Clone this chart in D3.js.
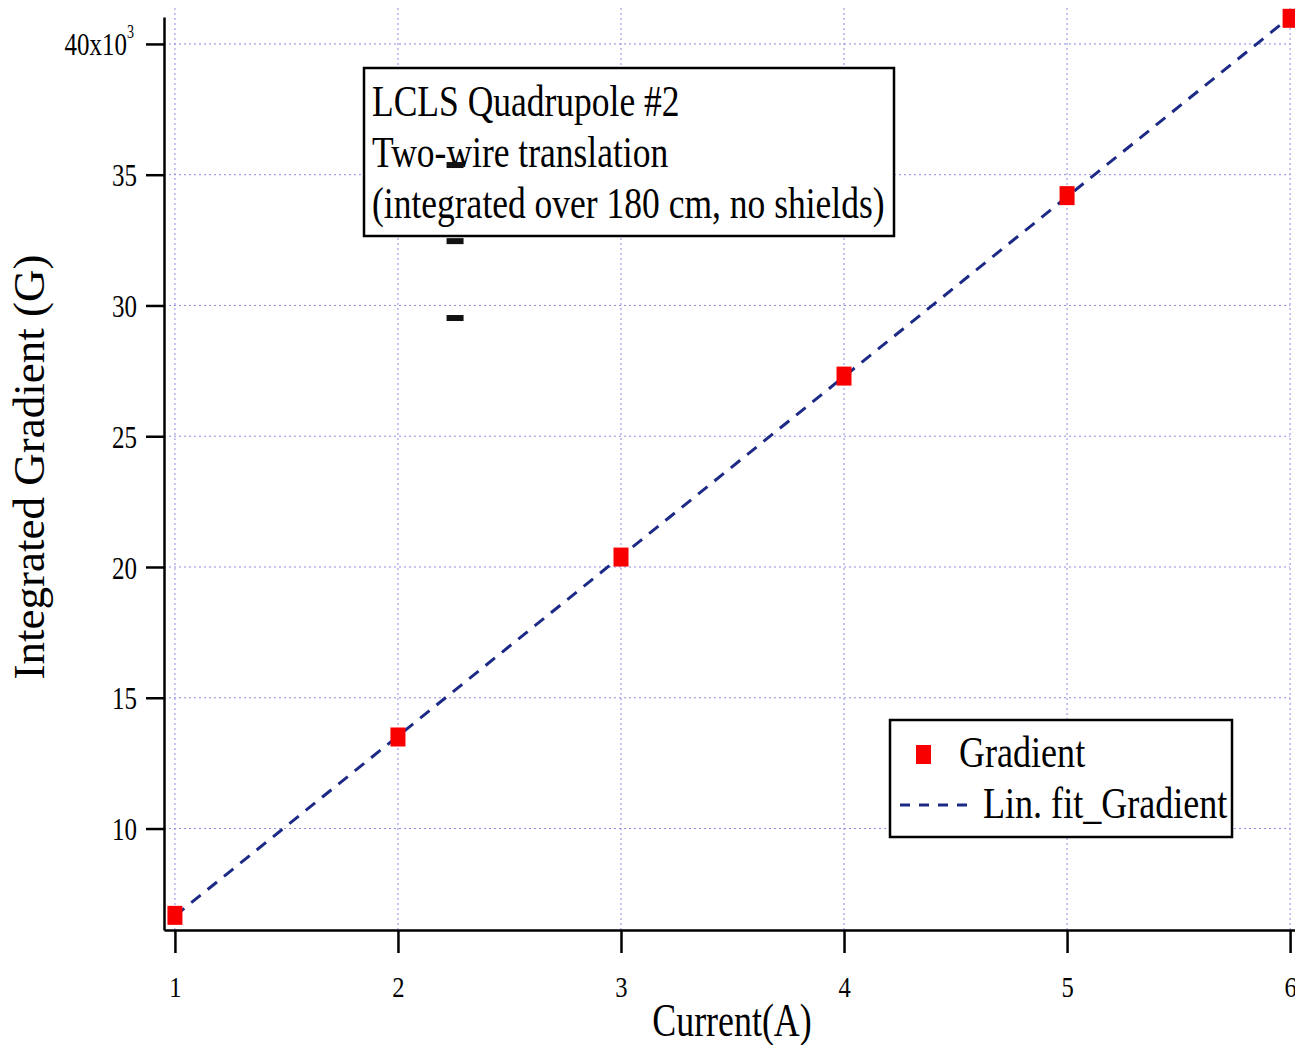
<!DOCTYPE html>
<meta charset="utf-8">
<script src="https://d3js.org/d3.v7.min.js"></script>
<style>
  body { margin: 0; background: #fff; }
  text { font-family: "Liberation Serif", "Times New Roman", serif; fill: #000; }
</style>
<div id="my_dataviz"></div>
<script>

// data (gradient in units of 10^3 G)
var currentA = [1, 2, 3, 4, 5, 6];
var gradientKG = [6.68, 13.5, 20.38, 27.3, 34.2, 40.98];

// linear fit end points
var fitCurrent = [1, 6];
var fitGradient = [6.66, 41.03];

// the three small black marks near x = 2.25
var strayCurrent = [2.256, 2.256, 2.256];
var strayGradient = [35.37, 32.46, 29.52];

var xTicks = [1, 2, 3, 4, 5, 6];
var yTicks = [10, 15, 20, 25, 30, 35, 40];

var annotationLines = ["LCLS Quadrupole #2", "Two-wire translation", "(integrated over 180 cm, no shields)"];
var legendLabels = ["Gradient", "Lin. fit_Gradient"];

var width = 1295, height = 1045;

var svg = d3.select("#my_dataviz")
  .append("svg")
    .attr("width", width)
    .attr("height", height);

svg.append("rect").attr("width", width).attr("height", height).attr("fill", "#fff");

// scales
var x = d3.scaleLinear().domain([0.951, 6.022]).range([164, 1295]);
var y = d3.scaleLinear().domain([6.12, 41.03]).range([930, 17]);

// grid
var gridColor = "#8c8ce0";
svg.append("g").selectAll("line")
  .data(xTicks)
  .enter().append("line")
    .attr("x1", function(d) { return x(d); })
    .attr("x2", function(d) { return x(d); })
    .attr("y1", 8)
    .attr("y2", y.range()[0])
    .attr("stroke", gridColor)
    .attr("stroke-width", 1)
    .attr("stroke-dasharray", "2,3");

svg.append("g").selectAll("line")
  .data(yTicks)
  .enter().append("line")
    .attr("x1", x.range()[0])
    .attr("x2", x(6))
    .attr("y1", function(d) { return y(d); })
    .attr("y2", function(d) { return y(d); })
    .attr("stroke", gridColor)
    .attr("stroke-width", 1)
    .attr("stroke-dasharray", "2,3");

// axes
var yAxis = svg.append("g")
  .attr("transform", "translate(164,0)")
  .call(d3.axisLeft(y).tickValues(yTicks).tickSize(18).tickSizeOuter(0).tickFormat(d3.format("d")));

var xAxis = svg.append("g")
  .attr("transform", "translate(0,930)")
  .call(d3.axisBottom(x).tickValues(xTicks).tickSize(23).tickSizeOuter(0).tickFormat(d3.format("d")));

[yAxis, xAxis].forEach(function(a) {
  a.select(".domain").attr("stroke", "#000").attr("stroke-width", 2.5);
  a.selectAll(".tick line").attr("stroke", "#000").attr("stroke-width", 2.5);
});

yAxis.selectAll(".tick text")
  .attr("x", 0)
  .attr("dy", null)
  .attr("y", 11)
  .attr("font-size", 32)
  .attr("font-family", "Liberation Serif")
  .attr("transform", "translate(-27,0) scale(0.78,1)");

// 40x10^3 label
yAxis.selectAll(".tick text")
  .filter(function(d) { return d === 40; })
  .text("40x10")
  .attr("transform", "translate(-30,0) scale(0.78,1)")
  .append("tspan")
    .attr("font-size", 18)
    .attr("dy", -17)
    .text("3");

xAxis.selectAll(".tick text")
  .attr("y", 0)
  .attr("dy", null)
  .attr("font-size", 30)
  .attr("font-family", "Liberation Serif")
  .attr("transform", "translate(0,67) scale(0.82,1)");

// axis titles
svg.append("text")
  .attr("text-anchor", "middle")
  .attr("font-size", 46)
  .attr("transform", "translate(732,1036) scale(0.78,1)")
  .text("Current(A)");

svg.append("text")
  .attr("text-anchor", "middle")
  .attr("font-size", 45)
  .attr("transform", "translate(44,467) rotate(-90)")
  .text("Integrated Gradient (G)");

// fit line
svg.append("path")
  .datum(d3.zip(fitCurrent, fitGradient))
  .attr("fill", "none")
  .attr("stroke", "#1c2a86")
  .attr("stroke-width", 3)
  .attr("stroke-dasharray", "12,9")
  .attr("d", d3.line()
    .x(function(d) { return x(d[0]); })
    .y(function(d) { return y(d[1]); }));

// data markers
svg.append("g").selectAll("rect")
  .data(d3.zip(currentA, gradientKG))
  .enter().append("rect")
    .attr("x", function(d) { return x(d[0]) - 7.5; })
    .attr("y", function(d) { return y(d[1]) - 9.5; })
    .attr("width", 15)
    .attr("height", 19)
    .attr("fill", "#f80000");

// annotation box
var ann = svg.append("g");
ann.append("rect")
  .attr("x", 364).attr("y", 68)
  .attr("width", 530).attr("height", 168)
  .attr("fill", "#fff")
  .attr("stroke", "#000")
  .attr("stroke-width", 2.5);
ann.selectAll("text")
  .data(annotationLines)
  .enter().append("text")
    .attr("font-size", 44)
    .attr("transform", function(d, i) { return "translate(372," + (116 + i * 51) + ") scale(0.807,1)"; })
    .text(function(d) { return d; });

// stray black marks
svg.append("g").selectAll("rect")
  .data(d3.zip(strayCurrent, strayGradient))
  .enter().append("rect")
    .attr("x", function(d) { return x(d[0]) - 8.5; })
    .attr("y", function(d) { return y(d[1]) - 3; })
    .attr("width", 17)
    .attr("height", 6)
    .attr("fill", "#111");

// legend
var legend = svg.append("g");
legend.append("rect")
  .attr("x", 890).attr("y", 720)
  .attr("width", 342).attr("height", 117)
  .attr("fill", "#fff")
  .attr("stroke", "#000")
  .attr("stroke-width", 2.5);
legend.append("rect")
  .attr("x", 916).attr("y", 745)
  .attr("width", 15).attr("height", 19)
  .attr("fill", "#f80000");
legend.append("line")
  .attr("x1", 900).attr("x2", 968)
  .attr("y1", 805).attr("y2", 805)
  .attr("stroke", "#1c2a86")
  .attr("stroke-width", 3)
  .attr("stroke-dasharray", "10,9");
legend.append("text")
  .attr("font-size", 44)
  .attr("transform", "translate(959,767) scale(0.82,1)")
  .text(legendLabels[0]);
legend.append("text")
  .attr("font-size", 44)
  .attr("transform", "translate(983,818) scale(0.82,1)")
  .text(legendLabels[1]);

</script>
